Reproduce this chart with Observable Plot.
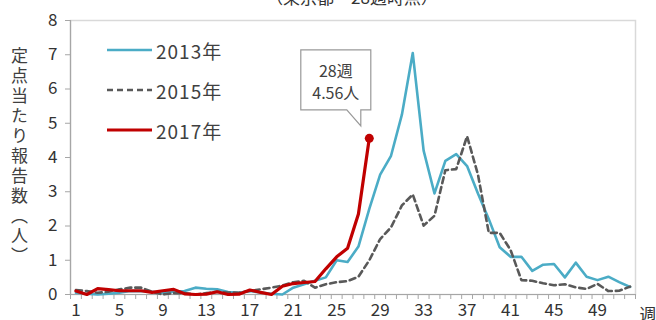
<!DOCTYPE html>
<html><head><meta charset="utf-8">
<script src="https://cdn.jsdelivr.net/npm/d3@7"></script>
<script src="https://cdn.jsdelivr.net/npm/@observablehq/plot@0.6"></script>
<style>
body{margin:0;background:#fff;}
#wrap{position:relative;width:656px;height:320px;overflow:hidden;font-family:"Noto Sans CJK JP","Noto Sans",sans-serif;background:#fff;}
#ytitle{position:absolute;left:11px;top:47px;writing-mode:vertical-rl;font-size:17px;letter-spacing:3px;color:#404040;line-height:1;}
</style></head><body><div id="wrap"><div id="ytitle">定点当たり報告数（人）</div></div>
<script>
const weeks = [1,2,3,4,5,6,7,8,9,10,11,12,13,14,15,16,17,18,19,20,21,22,23,24,25,26,27,28,29,30,31,32,33,34,35,36,37,38,39,40,41,42,43,44,45,46,47,48,49,50,51,52];
const y2013 = [0.05,0.02,0.0,0.02,0.05,0.1,0.1,0.08,0.05,0.08,0.1,0.2,0.17,0.15,0.07,0.05,0.1,0.06,0.02,0.0,0.2,0.3,0.4,0.5,1.0,0.95,1.4,2.5,3.5,4.05,5.25,7.05,4.2,2.95,3.9,4.1,3.75,2.95,2.2,1.38,1.1,1.1,0.69,0.87,0.89,0.5,0.93,0.52,0.42,0.52,0.36,0.22];
const y2015 = [0.13,0.1,0.05,0.08,0.15,0.2,0.2,0.08,0.0,0.04,0.04,0.0,0.04,0.08,0.06,0.05,0.1,0.15,0.2,0.26,0.36,0.4,0.2,0.3,0.36,0.39,0.52,1.0,1.62,1.96,2.6,2.92,2.01,2.3,3.63,3.66,4.62,3.5,1.8,1.8,1.3,0.42,0.4,0.33,0.27,0.3,0.21,0.16,0.31,0.1,0.11,0.23];
const y2017 = [0.1,0.0,0.17,0.14,0.11,0.11,0.11,0.06,0.11,0.15,0.02,0.0,0.01,0.08,0.0,0.01,0.13,0.06,0.0,0.24,0.32,0.35,0.38,0.75,1.1,1.35,2.35,4.56];
const seriesNames = ["2013年","2015年","2017年"];
const seriesColors = ["#4bacc6","#595959","#c00000"];
const xTickLabels = [1,5,9,13,17,21,25,29,33,37,41,45,49];
const yTicks = [0,1,2,3,4,5,6,7,8];
const titleText = "（東京都・28週時点）";
const xUnit = "週";

const rows = (vals, name) => vals.map((v,i)=>({week:weeks[i], value:v, series:name}));
const d2013 = rows(y2013, seriesNames[0]);
const d2015 = rows(y2015, seriesNames[1]);
const d2017 = rows(y2017, seriesNames[2]);
const last = d2017[d2017.length-1];
const boundaries = weeks.map(w=>w-0.5).concat([weeks[weeks.length-1]+0.5]);
const font = '"Noto Sans CJK JP","Noto Sans",sans-serif';

const chart = Plot.plot({
  width:656, height:320,
  marginLeft:70, marginRight:21, marginTop:20, marginBottom:26,
  x:{domain:[boundaries[0], boundaries[boundaries.length-1]]},
  y:{domain:[0,8]},
  style:{fontFamily:font, fontSize:"17px", color:"#333", background:"transparent", overflow:"visible"},
  marks:[
    Plot.frame({stroke:"#d9d9d9", strokeWidth:1.5}),
    Plot.axisY({ticks:yTicks, tickSize:5, tickPadding:8, label:null, stroke:"#a6a6a6", fill:"#333"}),
    Plot.axisX({ticks:boundaries, tickSize:5, tickFormat:()=>"", label:null, stroke:"#a6a6a6"}),
    Plot.axisX({ticks:xTickLabels, tickSize:0, tickPadding:9, label:null, fill:"#333"}),
    Plot.ruleX([boundaries[0]], {stroke:"#a6a6a6", strokeWidth:1.2}),
    Plot.ruleY([0], {stroke:"#a6a6a6", strokeWidth:1.2}),
    Plot.line(d2013, {x:"week", y:"value", stroke:seriesColors[0], strokeWidth:2.6}),
    Plot.line(d2015, {x:"week", y:"value", stroke:seriesColors[1], strokeWidth:2.6, strokeDasharray:"6,4"}),
    Plot.line(d2017, {x:"week", y:"value", stroke:seriesColors[2], strokeWidth:3.2}),
    Plot.dot([last], {x:"week", y:"value", r:4.5, fill:seriesColors[2], stroke:"none"})
  ]
});
document.getElementById("wrap").appendChild(chart);
chart.style.position = "absolute"; chart.style.left = "0"; chart.style.top = "0";

const svg = d3.select(chart);
// title (partially above the frame)
svg.append("text").attr("x",352).attr("y",4).attr("text-anchor","middle")
  .attr("font-size",17).attr("fill","#333").attr("font-family",font).text(titleText);
// x unit
svg.append("text").attr("x",648).attr("y",313).attr("text-anchor","middle").attr("dominant-baseline","central")
  .attr("font-size",17).attr("fill","#333").attr("font-family",font).text(xUnit);
// legend
const lg = svg.append("g").attr("font-family",font).attr("font-size",19).attr("fill","#404040").attr("text-anchor","start");
seriesNames.forEach((name,i)=>{
  const yy = 50 + i*40;
  lg.append("line").attr("x1",107).attr("x2",152).attr("y1",yy).attr("y2",yy)
    .attr("stroke",seriesColors[i]).attr("stroke-width", i===2?3.2:2.6)
    .attr("stroke-dasharray", i===1?"6,4":null);
  lg.append("text").attr("x",156).attr("y",yy).attr("dominant-baseline","central")
    .attr("text-anchor","start").attr("letter-spacing","1px").text(name);
});
// callout anchored to the last 2017 point
const px = chart.scale("x").apply(last.week), py = chart.scale("y").apply(last.value);
const L = px-68, R = px+2, T = py-88, B = py-28;
const g = svg.append("g");
g.append("path").attr("d",`M${L},${T}H${R}V${B}H${px-8}V${py-12}L${px-22},${B}H${L}Z`)
  .attr("fill","#fff").attr("stroke","#999").attr("stroke-width",1.2);
g.append("text").attr("x",(L+R)/2).attr("y",T+20).attr("text-anchor","middle").attr("dominant-baseline","central")
  .attr("font-family",font).attr("font-size",16).attr("fill","#404040").text(`${last.week}週`);
g.append("text").attr("x",(L+R)/2).attr("y",T+42).attr("text-anchor","middle").attr("dominant-baseline","central")
  .attr("font-family",font).attr("font-size",16).attr("fill","#404040").text(`${last.value}人`);
</script></body></html>
